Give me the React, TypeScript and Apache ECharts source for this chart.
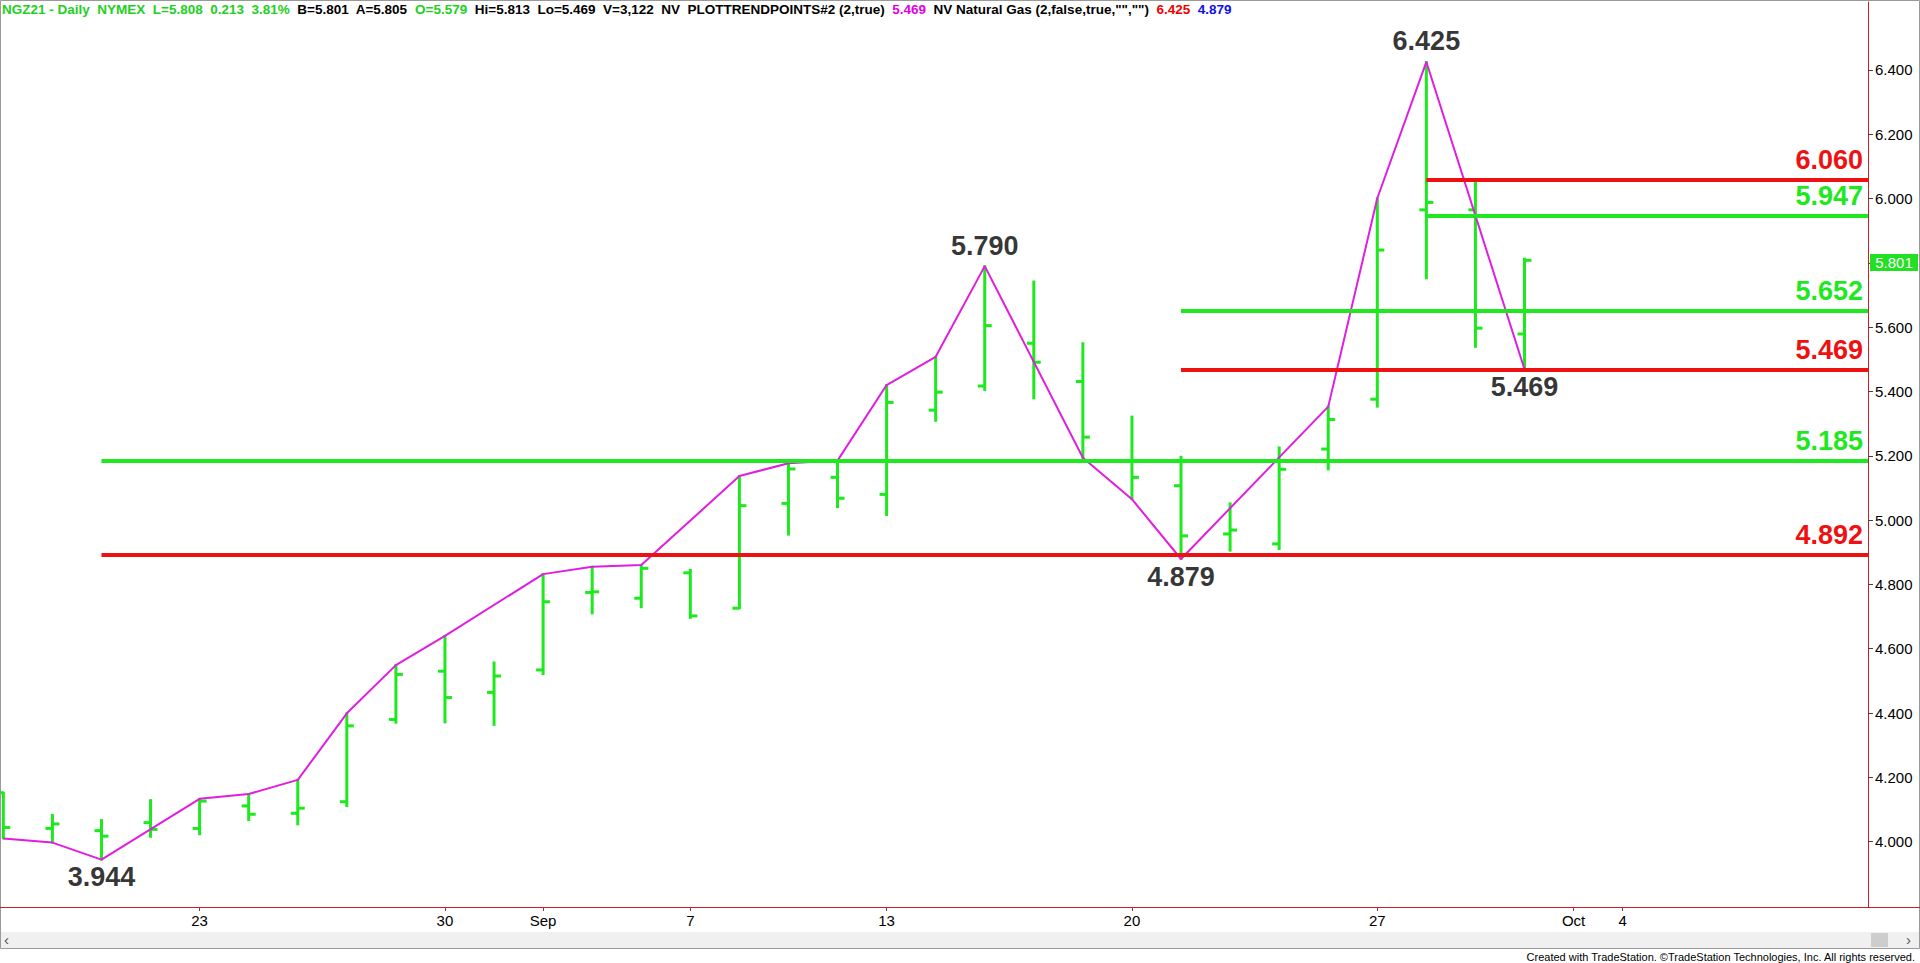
import React, { useEffect, useRef } from 'react';
import * as echarts from 'echarts';

// ---- data ----
const dates = [
  '2021-08-17', '2021-08-18', '2021-08-19', '2021-08-20',
  '2021-08-23', '2021-08-24', '2021-08-25', '2021-08-26', '2021-08-27',
  '2021-08-30', '2021-08-31', '2021-09-01', '2021-09-02', '2021-09-03',
  '2021-09-07', '2021-09-08', '2021-09-09', '2021-09-10',
  '2021-09-13', '2021-09-14', '2021-09-15', '2021-09-16', '2021-09-17',
  '2021-09-20', '2021-09-21', '2021-09-22', '2021-09-23', '2021-09-24',
  '2021-09-27', '2021-09-28', '2021-09-29', '2021-09-30',
];
const firstIdx = -4; // trading-day index of the first bar (Aug 23 = 0)

const opens = [4.152, 4.041, 4.034, 4.059, 4.041, 4.111, 4.088, 4.124, 4.380, 4.530, 4.464, 4.534, 4.775, 4.757, 4.836, 4.726, 5.052, 5.133, 5.080, 5.342, 5.417, 5.550, 5.431, 5.184, 5.107, 4.957, 4.926, 5.221, 5.376, 5.965, 5.965, 5.579];
const highs = [4.152, 4.083, 4.067, 4.129, 4.133, 4.148, 4.192, 4.399, 4.549, 4.640, 4.557, 4.832, 4.855, 4.860, 4.845, 5.137, 5.177, 5.185, 5.420, 5.508, 5.790, 5.742, 5.550, 5.322, 5.197, 5.052, 5.226, 5.353, 6.001, 6.425, 6.053, 5.813];
const lows = [4.010, 3.997, 3.944, 4.015, 4.023, 4.067, 4.054, 4.111, 4.370, 4.371, 4.363, 4.521, 4.710, 4.729, 4.696, 4.726, 4.955, 5.040, 5.016, 5.309, 5.405, 5.379, 5.194, 5.065, 4.879, 4.905, 4.910, 5.158, 5.353, 5.752, 5.539, 5.469];
const closes = [4.044, 4.055, 4.017, 4.038, 4.126, 4.085, 4.104, 4.360, 4.520, 4.448, 4.515, 4.746, 4.777, 4.850, 4.702, 5.045, 5.159, 5.068, 5.366, 5.398, 5.605, 5.491, 5.258, 5.133, 4.951, 4.969, 5.158, 5.313, 5.840, 5.988, 5.597, 5.808];

// trend-point line (null = no vertex on that bar)
const trendPoints: (number | null)[] = [4.010, 3.997, 3.944, null, 4.133, 4.148, 4.192, 4.399, 4.549, 4.640, null, 4.832, 4.855, 4.860, null, 5.137, 5.177, 5.185, 5.420, 5.508, 5.790, null, 5.194, 5.065, 4.879, null, null, 5.353, 6.001, 6.425, null, 5.469];

// swing pivots
const pivotIdx = [-2, 16, 20, 25, 27];
const pivotValues = [3.944, 5.790, 4.879, 6.425, 5.469];
const pivotIsHigh = [false, true, false, true, false];

// retracement levels
const levelValues = [5.185, 4.892, 5.652, 5.469, 6.060, 5.947];
const levelRatios = [0.5, 0.618, 0.5, 0.618, 0.618, 0.5];
const levelStartIdx = [-2, -2, 20, 20, 25, 25];

const lastPrice = 5.801;

const xTickIdx = [0, 5, 7, 10, 14, 19, 24, 28, 29];
const xTickLabels = ['23', '30', 'Sep', '7', '13', '20', '27', 'Oct', '4'];
const yTickValues = [4.0, 4.2, 4.4, 4.6, 4.8, 5.0, 5.2, 5.4, 5.6, 5.8, 6.0, 6.2, 6.4];

// ---- styles ----
const GREEN = '#1ee81e';
const RED = '#ee1111';
const MAGENTA = '#e01ee0';
const AXIS_RED = '#c8202a';
const FONT = 'Arial, "Liberation Sans", sans-serif';

const X_MIN = -4.068;
const X_MAX = 34.0;
const Y_MIN = 3.7966;
const Y_MAX = 6.6115;

export default function App() {
  const ref = useRef<HTMLDivElement>(null);

  useEffect(() => {
    if (!ref.current) return;
    const chart = echarts.init(ref.current, undefined, { renderer: 'svg' });

    const ohlc = dates.map((_, i) => [i + firstIdx, opens[i], highs[i], lows[i], closes[i]]);
    const trend = trendPoints
      .map((v, i) => (v === null ? null : [i + firstIdx, v]))
      .filter((p) => p !== null);
    const pivots = pivotIdx.map((x, i) => ({
      value: [x, pivotValues[i]],
      label: {
        position: pivotIsHigh[i] ? 'top' : 'bottom',
        distance: pivotIsHigh[i] ? 6 : 3,
      },
    }));

    const levelLines = levelValues.map((v, i) => {
      const col = levelRatios[i] === 0.5 ? GREEN : RED;
      return [
        {
          coord: [levelStartIdx[i], v],
          lineStyle: { color: col, width: 4, type: 'solid' },
          label: {
            show: true,
            position: 'insideEndTop',
            distance: [5, 6],
            formatter: v.toFixed(3),
            color: col,
            fontSize: 27,
            fontWeight: 'bold',
            fontFamily: FONT,
          },
        },
        { coord: [X_MAX, v] },
      ];
    });

    const header =
      '{g|NGZ21 - Daily  NYMEX  L=5.808  0.213  3.81%}  ' +
      '{k|B=5.801  A=5.805}  ' +
      '{g|O=5.579}  ' +
      '{k|Hi=5.813  Lo=5.469  V=3,122  NV  PLOTTRENDPOINTS#2 (2,true)}  ' +
      '{m|5.469}  ' +
      '{k|NV Natural Gas (2,false,true,"","")}  ' +
      '{r|6.425}  ' +
      '{b|4.879}';

    const hs = { fontSize: 13.5, fontFamily: FONT };

    chart.setOption({
      animation: false,
      backgroundColor: '#ffffff',
      title: {
        text: header,
        left: 2,
        top: 2,
        padding: 0,
        textStyle: {
          ...hs,
          rich: {
            g: { ...hs, color: '#22d022' },
            k: { ...hs, color: '#000000' },
            m: { ...hs, color: '#e000e0' },
            r: { ...hs, color: '#ee0000' },
            b: { ...hs, color: '#1010e8' },
          },
        },
      },
      grid: { left: 0, right: 52, top: 2, bottom: 56, containLabel: false },
      xAxis: {
        type: 'value',
        min: X_MIN,
        max: X_MAX,
        splitLine: { show: false },
        axisLine: { show: true, onZero: false, lineStyle: { color: AXIS_RED, width: 1 } },
        axisTick: { show: true, customValues: xTickIdx, length: 4, lineStyle: { color: AXIS_RED } },
        axisLabel: {
          customValues: xTickIdx,
          formatter: (val: number) => {
            const k = xTickIdx.indexOf(Math.round(val));
            return k >= 0 ? xTickLabels[k] : '';
          },
          color: '#000',
          fontSize: 15,
          fontFamily: FONT,
          margin: 6,
        },
      },
      yAxis: {
        type: 'value',
        position: 'right',
        min: Y_MIN,
        max: Y_MAX,
        splitLine: { show: false },
        axisLine: { show: true, onZero: false, lineStyle: { color: AXIS_RED, width: 1 } },
        axisTick: { show: true, customValues: yTickValues, length: 5, lineStyle: { color: '#444' } },
        axisLabel: {
          customValues: yTickValues,
          formatter: (v: number) => v.toFixed(3),
          color: '#000',
          fontSize: 15,
          fontFamily: FONT,
          margin: 7,
        },
      },
      series: [
        {
          type: 'custom',
          name: 'NGZ21',
          data: ohlc,
          clip: true,
          z: 2,
          encode: { x: 0, y: [1, 2, 3, 4] },
          renderItem: (params: any, api: any) => {
            const x = api.value(0);
            const pH = api.coord([x, api.value(2)]);
            const pL = api.coord([x, api.value(3)]);
            const pO = api.coord([x, api.value(1)]);
            const pC = api.coord([x, api.value(4)]);
            const t = 7;
            const st = { stroke: GREEN, lineWidth: 3 };
            return {
              type: 'group',
              children: [
                { type: 'line', shape: { x1: pH[0], y1: pH[1] - 1, x2: pL[0], y2: pL[1] + 1 }, style: st },
                { type: 'line', shape: { x1: pO[0] - t, y1: pO[1], x2: pO[0], y2: pO[1] }, style: st },
                { type: 'line', shape: { x1: pC[0], y1: pC[1], x2: pC[0] + t, y2: pC[1] }, style: st },
              ],
            };
          },
        },
        {
          type: 'line',
          name: 'levels',
          data: [],
          z: 3,
          markLine: {
            silent: true,
            symbol: ['none', 'none'],
            animation: false,
            data: levelLines,
          },
          markPoint: {
            silent: true,
            animation: false,
            symbol: 'rect',
            symbolSize: [48, 17],
            symbolOffset: [26, 0],
            itemStyle: { color: '#22e022' },
            label: {
              show: true,
              color: '#ffffff',
              fontSize: 15,
              fontFamily: FONT,
              formatter: lastPrice.toFixed(3),
            },
            data: [{ coord: [X_MAX, lastPrice] }],
          },
        },
        {
          type: 'line',
          name: 'PLOTTRENDPOINTS',
          data: trend,
          z: 4,
          showSymbol: false,
          symbol: 'none',
          lineStyle: { color: MAGENTA, width: 2 },
        },
        {
          type: 'scatter',
          name: 'pivots',
          data: pivots,
          z: 5,
          symbolSize: 2,
          itemStyle: { color: 'rgba(0,0,0,0)' },
          label: {
            show: true,
            formatter: (p: any) => p.value[1].toFixed(3),
            color: '#000',
            fontSize: 27,
            fontWeight: 'bold',
            fontFamily: FONT,
          },
        },
      ],
      graphic: [
        { type: 'rect', shape: { x: 0.5, y: 0.5, width: 1919, height: 948 }, style: { fill: 'none', stroke: '#9a9a9a', lineWidth: 1 }, silent: true },
        { type: 'line', shape: { x1: 1868, y1: 907.5, x2: 1920, y2: 907.5 }, style: { stroke: AXIS_RED, lineWidth: 1 }, silent: true },
        { type: 'rect', shape: { x: 1, y: 932, width: 1918, height: 16 }, style: { fill: '#f0f0f0' }, silent: true },
        { type: 'rect', shape: { x: 1871, y: 933, width: 17, height: 14 }, style: { fill: '#cdcdcd' }, silent: true },
        { type: 'text', x: 4, y: 932, style: { text: '‹', fill: '#555', fontSize: 15, fontFamily: FONT }, silent: true },
        { type: 'text', x: 1906, y: 932, style: { text: '›', fill: '#555', fontSize: 15, fontFamily: FONT }, silent: true },
        {
          type: 'text',
          right: 4,
          top: 951,
          style: {
            text: 'Created with TradeStation. ©TradeStation Technologies, Inc. All rights reserved.',
            fill: '#000',
            fontSize: 11,
            fontFamily: FONT,
          },
          silent: true,
        },
      ],
    });

    return () => chart.dispose();
  }, []);

  return (
    <div
      ref={ref}
      style={{ position: 'fixed', left: 0, top: 0, width: 1920, height: 963, background: '#fff' }}
    />
  );
}
